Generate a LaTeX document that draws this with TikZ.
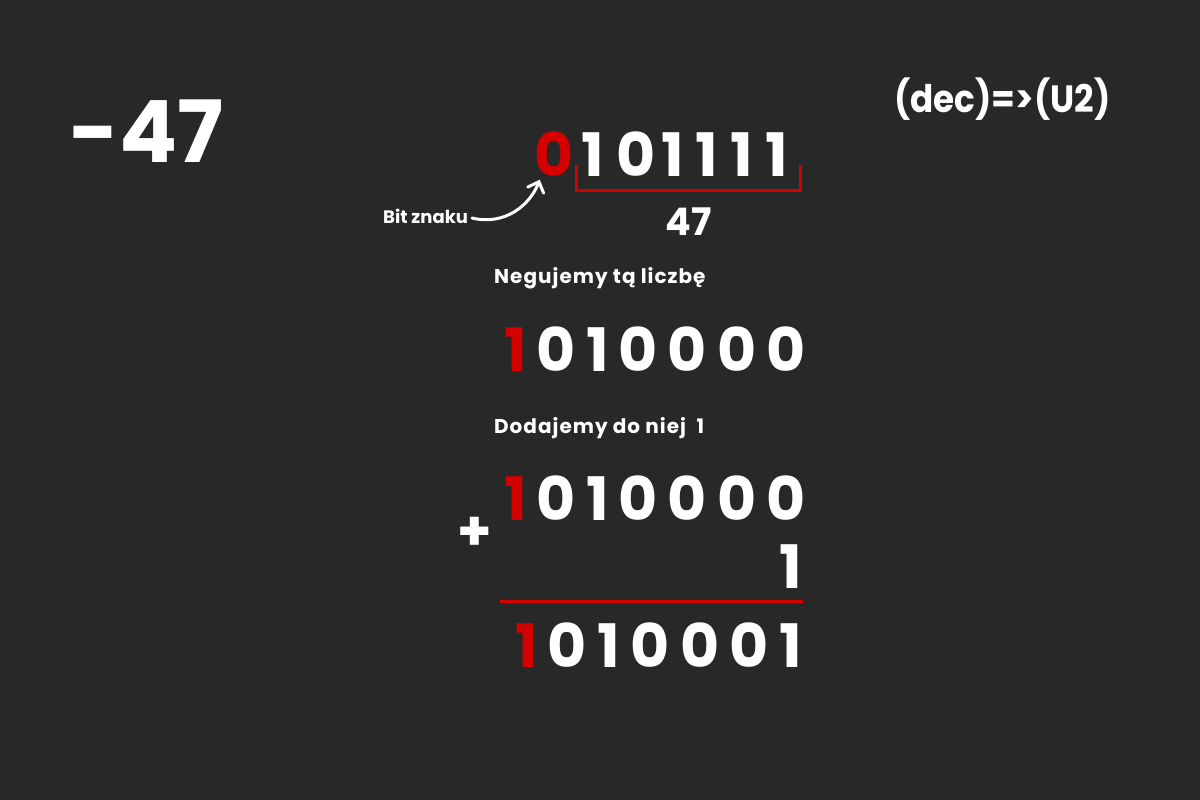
\documentclass[tikz,border=0pt]{standalone}
\usepackage{fontspec}
\setmainfont{Poppins}
\usetikzlibrary{arrows.meta}
\definecolor{bgc}{HTML}{282828}
\definecolor{ured}{HTML}{D40000}
\tikzset{
  bit/.style={inner sep=0pt, anchor=base, text=white, font=\bfseries\fontsize{60}{60}\selectfont},
  rbit/.style={bit, text=ured},
  lbl/.style={inner sep=0pt, anchor=base west, text=white, font=\bfseries\fontsize{18}{18}\selectfont},
  biglbl/.style={lbl, font=\bfseries\fontsize{20}{20}\selectfont\addfontfeature{LetterSpace=5}},
  redline/.style={draw=ured, line width=3pt},
}
\begin{document}
\begin{tikzpicture}[x=1pt, y=-1pt]
\fill[bgc] (0,0) rectangle (1200,800);
\useasboundingbox (0,0) rectangle (1200,800);
% titles
\node[inner sep=0pt, anchor=base west, text=white, font=\bfseries\fontsize{86}{86}\selectfont] (num) at (69,162) {-47};
\node[inner sep=0pt, anchor=base west, text=white, font=\bfseries\fontsize{38}{38}\selectfont\addfontfeature{FakeStretch=0.9}] (conv) at (894,113) {(dec)=>(U2)};
% row 1
\foreach \x/\d/\s [count=\i] in {554.5/0/rbit, 593/1/bit, 636/0/bit, 673/1/bit, 707/1/bit, 742/1/bit, 777/1/bit}
  \node[\s] (a\i) at (\x,176.5) {\d};
\draw[redline] (576.7,165) -- (576.7,190) -- (800,190) -- (800,165);
\node[inner sep=0pt, anchor=base, text=white, font=\bfseries\fontsize{38}{38}\selectfont] (val) at (688.5,235) {47};
\node[lbl] (bitlbl) at (383,223.3) {Bit znaku};
\coordinate (arrS) at (472,218);
\draw[white, line width=3pt, line cap=round, -{Straight Barb[length=9pt, width=17pt, line cap=round]}]
  (arrS) .. controls (505,226) and (530,205) .. ([xshift=5pt,yshift=-3pt]a1.south west);
% negation
\node[biglbl] (neg) at (494,283.3) {Negujemy tą liczbę};
\foreach \x/\d/\s [count=\i] in {515.3/1/rbit, 556.3/0/bit, 597.7/1/bit, 637.8/0/bit, 687.5/0/bit, 736.7/0/bit, 785.8/0/bit}
  \node[\s] (b\i) at (\x,371.5) {\d};
\node[biglbl] (add) at (494,433.3) {Dodajemy do niej\ \ 1};
% addition
\foreach \x/\d/\s [count=\i] in {515.3/1/rbit, 556.3/0/bit, 597.7/1/bit, 637.8/0/bit, 687.5/0/bit, 736.7/0/bit, 785.8/0/bit}
  \node[\s] (c\i) at (\x,520) {\d};
\node[bit] (one) at (790.5,588) {1};
\node[inner sep=0pt, anchor=center, text=white, font=\bfseries\fontsize{55}{55}\selectfont] (plus) at (474.7,533.8) {+};
\coordinate (sumL) at (500,601.7);
\coordinate (sumR) at (802.7,601.7);
\draw[redline] (sumL) -- (sumR);
\foreach \x/\d/\s [count=\i] in {527/1/rbit, 567/0/bit, 609/1/bit, 650.3/0/bit, 700.3/0/bit, 749/0/bit, 790.8/1/bit}
  \node[\s] (d\i) at (\x,667.5) {\d};
\end{tikzpicture}
\end{document}
